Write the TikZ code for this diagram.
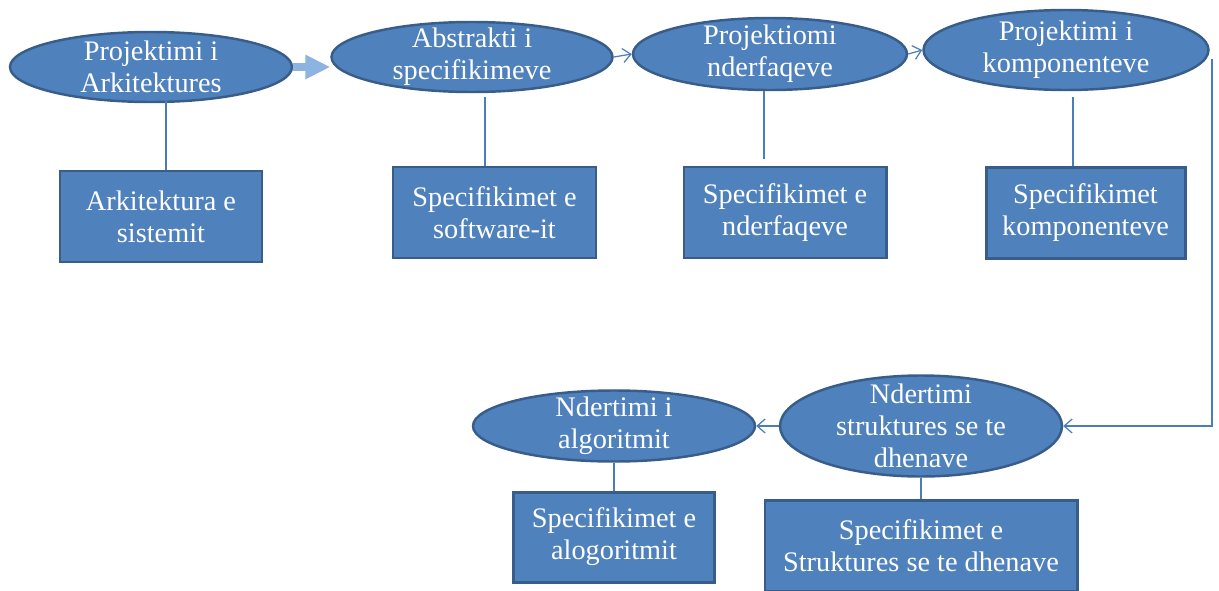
\documentclass[tikz,border=0pt]{standalone}
\usepackage{fontspec}
\setmainfont{Liberation Serif}
\usepackage{tikz}
\usetikzlibrary{arrows.meta,shapes.geometric,positioning,calc}
\usepackage{xcolor}
\definecolor{shapeblue} {RGB}{ 79, 129, 189}
\definecolor{edgeblue}  {RGB}{ 56,  93, 138}
\definecolor{linkblue}  {RGB}{ 74, 126, 187}
\definecolor{lightarrow}{RGB}{141, 179, 226}

\begin{document}
\begin{tikzpicture}[
  every node/.style={font=\fontsize{16.1}{18.2}\selectfont,text=white},
  ell/.style={ellipse,draw=edgeblue,line width=1.4pt,fill=shapeblue,
              inner xsep=-2cm,inner ysep=-2cm,align=center},
  spec/.style={rectangle,draw=edgeblue,line width=1.7pt,fill=shapeblue,
              minimum height=1.82cm,inner sep=0pt,align=center},
  link/.style={draw=linkblue,line width=0.7pt},
  arr/.style={link,-{Straight Barb[length=1.6mm,width=2.8mm]}},
  bigarr/.style={draw=lightarrow,line width=0.16cm,
                 -{Triangle[length=5mm,width=4.6mm]}},
]
\useasboundingbox (0,0) rectangle (24.38,-11.8);

%% ── Upper row: design steps ────────────────────────────────────────────
\node[ell,minimum width=5.64cm,minimum height=1.40cm] (E1) at (3.02,-1.34) {Projektimi i\\Arkitektures};
\node[ell,minimum width=5.62cm,minimum height=1.40cm] (E2) at (9.44,-1.14) {Abstrakti i\\specifikimeve};
\node[ell,minimum width=5.48cm,minimum height=1.44cm] (E3) at (15.40,-1.08) {Projektiomi\\nderfaqeve};
\node[ell,minimum width=5.70cm,minimum height=1.60cm] (E4) at (21.32,-1.00) {Projektimi i\\komponenteve};

%% ── Upper row: products ────────────────────────────────────────────────
\node[spec,minimum width=4.04cm] (R1) at (3.22,-4.33) {Arkitektura e\\sistemit};
\node[spec,minimum width=4.06cm] (R2) at (9.89,-4.25) {Specifikimet e\\software-it};
\node[spec,minimum width=4.04cm] (R3) at (15.70,-4.25) {Specifikimet e\\nderfaqeve};
\node[spec,minimum width=3.98cm] (R4) at (21.71,-4.26) {Specifikimet\\komponenteve};

%% ── Lower row ──────────────────────────────────────────────────────────
\node[ell,minimum width=5.64cm,minimum height=2.02cm] (E5) at (18.42,-8.52) {Ndertimi\\struktures se te\\dhenave};
\node[ell,minimum width=5.64cm,minimum height=1.42cm] (E6) at (12.28,-8.52) {Ndertimi i\\algoritmit};
\node[spec,minimum width=4.02cm,minimum height=1.80cm] (R6) at (12.28,-10.74) {Specifikimet e\\alogoritmit};
\node[spec,minimum width=6.24cm] (R7) at (18.42,-10.91) {Specifikimet e\\Struktures se te dhenave};

%% Flow between steps
\draw[bigarr] (E1.east) -- (E1.east -| E2.west);
\draw[arr] (E2.east) -- (E3.west);
\draw[arr] (E3.east) -- (E4.west);
\coordinate (turn) at (24.24,-1.18);
\draw[arr] (turn) |- (E5.east);
\draw[arr] (E5.west) -- (E6.east);

%% Step -> product
\draw[link] ([xshift=1mm]R1.north) -- ++(0,1.38);
\draw[link] ([xshift=-1.9mm]R2.north) -- ++(0,1.38);
\draw[link] ([xshift=-1.2mm]E3.south) -- ++(0,-1.36);
\draw[link] ([xshift=-2.5mm]R4.north) -- ++(0,1.38);
\draw[link] (E6.south) -- (R6.north);
\draw[link] (E5.south) -- (R7.north);

\end{tikzpicture}
\end{document}
